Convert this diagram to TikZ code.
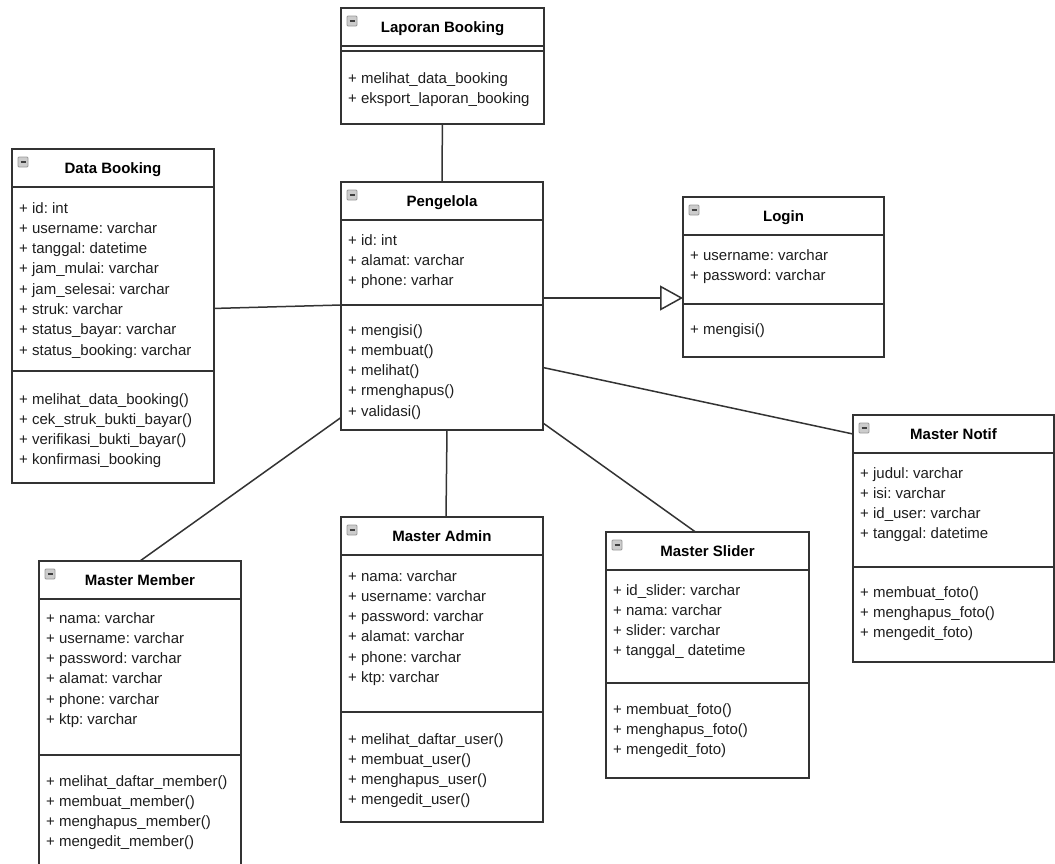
\documentclass[tikz,border=0pt]{standalone}
\usepackage{fontspec}
\setmainfont{Liberation Sans}
\usepackage{tikz}
\usetikzlibrary{arrows.meta,positioning,calc}
\usepackage{xcolor}
\definecolor{linec}{HTML}{333333}
\definecolor{textc}{HTML}{1E1E1E}
\frenchspacing

\begin{document}
\begin{tikzpicture}[
    x=1pt, y=-1pt,
    font=\fontsize{15pt}{20.3pt}\selectfont,
    head/.style={
        rectangle, draw=linec, fill=white, line width=1.4pt,
        minimum height=38pt, inner sep=0pt, outer sep=0pt, anchor=north west,
        text height=10.7pt, text depth=0pt,
        text=black, font=\fontsize{15pt}{20.3pt}\selectfont\bfseries,
        path picture={
            \draw[draw=gray!80, fill=gray!40, rounded corners=1pt, line width=0.8pt]
                ([shift={(6pt,-8pt)}]path picture bounding box.north west) rectangle ++(10pt,-10pt);
            \draw[line width=1.5pt, black!75]
                ([shift={(8.5pt,-13pt)}]path picture bounding box.north west) -- ++(5pt,0pt);
        }
    },
    sect/.style={
        rectangle, draw=linec, fill=white, line width=1.4pt,
        inner sep=0pt, outer sep=0pt
    },
    members/.style={
        anchor=north west, align=left, inner sep=0pt, text=textc
    },
    assoc/.style={
        draw=linec, line width=1.5pt
    },
    gen/.style={
        assoc, -{Triangle[open, length=23pt, width=25pt]}
    }
]

\clip (0,0) rectangle (1055,863);
\fill[white] (0,0) rectangle (1055,863);

% Laporan Booking
\node[head, minimum width=203pt] (lap) at (341,8) {Laporan Booking};
\node[sect, minimum width=203pt, minimum height=5pt, below=0pt of lap] (lap-a) {};
\node[sect, minimum width=203pt, minimum height=73pt, below=0pt of lap-a] (lap-m) {};
\node[members] (lap-mt) at ([shift={(7pt,-21pt)}]lap-m.north west)
    {+ melihat\_data\_booking\\+ eksport\_laporan\_booking};

% Data Booking
\node[head, minimum width=202pt] (db) at (12,149) {Data Booking};
\node[sect, minimum width=202pt, minimum height=184pt, below=0pt of db] (db-a) {};
\node[sect, minimum width=202pt, minimum height=112pt, below=0pt of db-a] (db-m) {};
\node[members] (db-at) at ([shift={(7pt,-15pt)}]db-a.north west)
    {+ id: int\\+ username: varchar\\+ tanggal: datetime\\+ jam\_mulai: varchar\\+ jam\_selesai: varchar\\+ struk: varchar\\+ status\_bayar: varchar\\+ status\_booking: varchar};
\node[members] (db-mt) at ([shift={(7pt,-22pt)}]db-m.north west)
    {+ melihat\_data\_booking()\\+ cek\_struk\_bukti\_bayar()\\+ verifikasi\_bukti\_bayar()\\+ konfirmasi\_booking};

% Pengelola
\node[head, minimum width=202pt] (pgl) at (341,182) {Pengelola};
\node[sect, minimum width=202pt, minimum height=85pt, below=0pt of pgl] (pgl-a) {};
\node[sect, minimum width=202pt, minimum height=125pt, below=0pt of pgl-a] (pgl-m) {};
\node[members] (pgl-at) at ([shift={(7pt,-14pt)}]pgl-a.north west)
    {+ id: int\\+ alamat: varchar\\+ phone: varhar};
\node[members] (pgl-mt) at ([shift={(7pt,-19pt)}]pgl-m.north west)
    {+ mengisi()\\+ membuat()\\+ melihat()\\+ rmenghapus()\\+ validasi()};

% Login
\node[head, minimum width=201pt] (login) at (683,197) {Login};
\node[sect, minimum width=201pt, minimum height=69pt, below=0pt of login] (login-a) {};
\node[sect, minimum width=201pt, minimum height=53pt, below=0pt of login-a] (login-m) {};
\node[members] (login-at) at ([shift={(7pt,-14pt)}]login-a.north west)
    {+ username: varchar\\+ password: varchar};
\node[members] (login-mt) at ([shift={(7pt,-19pt)}]login-m.north west)
    {+ mengisi()};

% Master Notif
\node[head, minimum width=201pt] (notif) at (853,415) {Master Notif};
\node[sect, minimum width=201pt, minimum height=114pt, below=0pt of notif] (notif-a) {};
\node[sect, minimum width=201pt, minimum height=95pt, below=0pt of notif-a] (notif-m) {};
\node[members] (notif-at) at ([shift={(7pt,-14pt)}]notif-a.north west)
    {+ judul: varchar\\+ isi: varchar\\+ id\_user: varchar\\+ tanggal: datetime};
\node[members] (notif-mt) at ([shift={(7pt,-19pt)}]notif-m.north west)
    {+ membuat\_foto()\\+ menghapus\_foto()\\+ mengedit\_foto)};

% Master Member
\node[head, minimum width=202pt] (mem) at (39,561) {Master Member};
\node[sect, minimum width=202pt, minimum height=156pt, below=0pt of mem] (mem-a) {};
\node[sect, minimum width=202pt, minimum height=125pt, below=0pt of mem-a] (mem-m) {};
\node[members] (mem-at) at ([shift={(7pt,-13pt)}]mem-a.north west)
    {+ nama: varchar\\+ username: varchar\\+ password: varchar\\+ alamat: varchar\\+ phone: varchar\\+ ktp: varchar};
\node[members] (mem-mt) at ([shift={(7pt,-20pt)}]mem-m.north west)
    {+ melihat\_daftar\_member()\\+ membuat\_member()\\+ menghapus\_member()\\+ mengedit\_member()};

% Master Admin
\node[head, minimum width=202pt] (adm) at (341,517) {Master Admin};
\node[sect, minimum width=202pt, minimum height=157pt, below=0pt of adm] (adm-a) {};
\node[sect, minimum width=202pt, minimum height=110pt, below=0pt of adm-a] (adm-m) {};
\node[members] (adm-at) at ([shift={(7pt,-15pt)}]adm-a.north west)
    {+ nama: varchar\\+ username: varchar\\+ password: varchar\\+ alamat: varchar\\+ phone: varchar\\+ ktp: varchar};
\node[members] (adm-mt) at ([shift={(7pt,-21pt)}]adm-m.north west)
    {+ melihat\_daftar\_user()\\+ membuat\_user()\\+ menghapus\_user()\\+ mengedit\_user()};

% Master Slider
\node[head, minimum width=203pt] (sld) at (606,532) {Master Slider};
\node[sect, minimum width=203pt, minimum height=113pt, below=0pt of sld] (sld-a) {};
\node[sect, minimum width=203pt, minimum height=95pt, below=0pt of sld-a] (sld-m) {};
\node[members] (sld-at) at ([shift={(7pt,-14pt)}]sld-a.north west)
    {+ id\_slider: varchar\\+ nama: varchar\\+ slider: varchar\\+ tanggal\_ datetime};
\node[members] (sld-mt) at ([shift={(7pt,-20pt)}]sld-m.north west)
    {+ membuat\_foto()\\+ menghapus\_foto()\\+ mengedit\_foto)};

% Associations
\draw[assoc] (lap-m) -- (pgl);
\draw[assoc] ($(db-a.north east)!0.66!(db-a.south east)$) -- (pgl-m.north west);
\draw[assoc] (pgl-m.east) -- (notif.west);
\draw[assoc] ($(pgl-m.north west)!0.9!(pgl-m.south west)$) -- (mem.north);
\draw[assoc] ([xshift=5pt]pgl-m.south) -- ([xshift=4pt]adm.north);
\draw[assoc] ([yshift=7pt]pgl-m.south east) -- ([xshift=-12pt]sld.north);

% Generalisation to Login
\draw[gen] ($(pgl-a.south east)+(0,-7)$) coordinate (gen-s) -- (gen-s -| login-a.west);

\end{tikzpicture}
\end{document}
